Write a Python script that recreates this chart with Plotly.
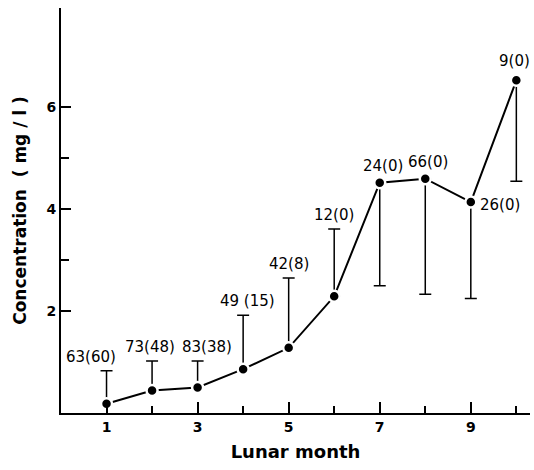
import plotly.graph_objects as go

months = [1, 2, 3, 4, 5, 6, 7, 8, 9, 10]
conc = [0.18, 0.44, 0.50, 0.86, 1.28, 2.29, 4.52, 4.60, 4.14, 6.53]
err_up = [0.65, 0.58, 0.52, 1.06, 1.37, 1.32, 0, 0, 0, 0]
err_down = [0, 0, 0, 0, 0, 0, 2.02, 2.27, 1.89, 1.98]
labels = ["63(60)", "73(48)", "83(38)", "49 (15)", "42(8)", "12(0)", "24(0)", "66(0)", "26(0)", "9(0)"]
xticks = [1, 3, 5, 7, 9]
yticks = [2, 4, 6]

font = "DejaVu Sans"
fig = go.Figure()
fig.add_trace(go.Scatter(
    x=months, y=conc, mode="lines+markers",
    line=dict(color="black", width=2),
    marker=dict(color="black", size=11, line=dict(color="white", width=2.5)),
    error_y=dict(type="data", symmetric=False, array=err_up, arrayminus=err_down,
                 color="black", thickness=1.5, width=6),
    showlegend=False,
))

for i, (m, c, lab) in enumerate(zip(months, conc, labels)):
    if m == 9:
        fig.add_annotation(x=m, y=c, text=lab, showarrow=False, xanchor="left",
                           yanchor="middle", xshift=7, yshift=-3)
    elif m == 10:
        fig.add_annotation(x=m, y=c, text=lab, showarrow=False, xanchor="center",
                           yanchor="bottom", yshift=8, xshift=-2)
    elif m in (7, 8):
        fig.add_annotation(x=m, y=c, text=lab, showarrow=False, xanchor="center",
                           yanchor="bottom", yshift=6, xshift=3)
    else:
        top = c + err_up[i]
        xs = {1: -16, 2: -2, 3: 9, 4: 4, 5: 0, 6: 0}[m]
        fig.add_annotation(x=m, y=top, text=lab, showarrow=False, xanchor="center",
                           yanchor="bottom", yshift=3, xshift=xs)

fig.update_annotations(font=dict(family=font, size=15, color="black"))

fig.update_layout(
    width=534, height=470,
    margin=dict(l=61, r=4, t=8, b=57),
    plot_bgcolor="white", paper_bgcolor="white",
    font=dict(family=font, size=14, color="black"),
    xaxis=dict(range=[0, 10.3], tickvals=xticks, ticks="inside", ticklen=11,
               tickwidth=1.5, tickcolor="black",
               minor=dict(tickvals=[2, 4, 6, 8, 10], ticks="inside", ticklen=7,
                          tickwidth=1.5, tickcolor="black"),
               showline=True, linecolor="black", linewidth=2, showgrid=False,
               zeroline=False,
               title=dict(text="Lunar month", font=dict(family=font, size=18, weight="bold"), standoff=12),
               tickfont=dict(family=font, size=14, weight="bold")),
    yaxis=dict(range=[0, 7.95], tickvals=yticks, ticks="inside", ticklen=10,
               tickwidth=1.5, tickcolor="black",
               minor=dict(tickvals=[3, 5], ticks="inside", ticklen=8,
                          tickwidth=1.5, tickcolor="black"),
               showline=True, linecolor="black", linewidth=2, showgrid=False,
               zeroline=False,
               title=dict(text="Concentration  ( mg / l )", font=dict(family=font, size=17, weight="bold"), standoff=16),
               tickfont=dict(family=font, size=14, weight="bold")),
)

fig.write_html("out.html")
